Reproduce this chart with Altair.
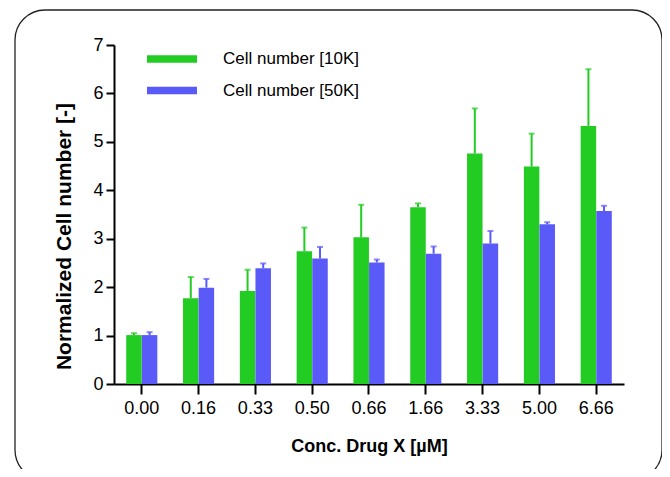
import altair as alt
import pandas as pd

concs = ["0.00", "0.16", "0.33", "0.50", "0.66", "1.66", "3.33", "5.00", "6.66"]
series_names = ["Cell number [10K]", "Cell number [50K]"]
mean_10k = [1.01, 1.77, 1.92, 2.74, 3.03, 3.65, 4.76, 4.49, 5.33]
top_10k = [1.05, 2.21, 2.36, 3.23, 3.70, 3.73, 5.69, 5.17, 6.50]
mean_50k = [1.01, 1.99, 2.39, 2.59, 2.51, 2.69, 2.90, 3.30, 3.57]
top_50k = [1.07, 2.17, 2.49, 2.83, 2.57, 2.84, 3.16, 3.34, 3.68]
colors = ["#22CC22", "#5A5AF8"]

rows = []
for i, c in enumerate(concs):
    rows.append({"conc": c, "series": series_names[0], "mean": mean_10k[i], "top": top_10k[i]})
    rows.append({"conc": c, "series": series_names[1], "mean": mean_50k[i], "top": top_50k[i]})
df = pd.DataFrame(rows)

font = "Liberation Sans"

x_enc = alt.X(
    "conc:N",
    sort=concs,
    scale=alt.Scale(paddingInner=0.45, paddingOuter=0.214),
    axis=alt.Axis(
        title="Conc. Drug X [µM]",
        labelAngle=0,
        labelFontSize=18,
        labelFont=font,
        labelColor="black",
        labelPadding=5,
        tickSize=10,
        tickWidth=2,
        tickColor="black",
        domainColor="black",
        domainWidth=2,
        titleFont=font,
        titleFontSize=18,
        titleFontWeight="bold",
        titleColor="black",
        titleBaseline="alphabetic",
        titleY=67,
    ),
)
xoff = alt.XOffset("series:N", sort=series_names,
                   scale=alt.Scale(paddingInner=0, paddingOuter=0))
y_scale = alt.Scale(domain=[0, 7], nice=False, zero=True)
y_axis = alt.Axis(
    title="Normalized Cell number [-]",
    values=[0, 1, 2, 3, 4, 5, 6, 7],
    grid=False,
    labelFontSize=18,
    labelFont=font,
    labelColor="black",
    labelPadding=3,
    tickSize=8,
    tickWidth=2,
    tickColor="black",
    domainColor="black",
    domainWidth=2,
    titleFont=font,
    titleFontSize=21,
    titleFontWeight="bold",
    titleColor="black",
    titleAngle=270,
    titleBaseline="alphabetic",
    titleX=-44,
    titleY=191,
)

color_enc = alt.Color(
    "series:N",
    sort=series_names,
    scale=alt.Scale(domain=series_names, range=colors),
    legend=alt.Legend(
        title=None,
        orient="none",
        legendX=33,
        legendY=8,
        padding=0,
        symbolType="M-1,-0.15L1,-0.15L1,0.15L-1,0.15Z",
        symbolSize=2500,
        symbolStrokeWidth=0,
        symbolOpacity=1,
        clipHeight=12,
        rowPadding=14.6,
        labelOffset=26,
        labelFontSize=17,
        labelFont=font,
        labelColor="black",
    ),
)

base = alt.Chart(df)

bars = base.mark_bar(size=15.5).encode(
    x=x_enc,
    xOffset=xoff,
    y=alt.Y("mean:Q", scale=y_scale, axis=y_axis),
    color=color_enc,
)

err = base.mark_rule(strokeWidth=2).encode(
    x=alt.X("conc:N", sort=concs),
    xOffset=xoff,
    y="mean:Q",
    y2="top:Q",
    color=alt.Color("series:N", sort=series_names, legend=None),
)

caps = base.mark_tick(size=6, thickness=2).encode(
    x=alt.X("conc:N", sort=concs),
    xOffset=xoff,
    y="top:Q",
    color=alt.Color("series:N", sort=series_names, legend=None),
)

border = alt.Chart(pd.DataFrame({"k": [0]})).mark_rect(
    fill=None, stroke="#222222", strokeWidth=1.3, cornerRadius=30
).encode(
    x=alt.value(15 - 114),
    x2=alt.value(662 - 114),
    y=alt.value(10 - 45),
    y2=alt.value(480 - 45),
)

chart = alt.layer(bars, err, caps, border).properties(
    width=510,
    height=339,
    autosize=alt.AutoSizeParams(type="none"),
    padding={"left": 106, "top": 37, "right": 38, "bottom": 85},
).configure_view(stroke=None).configure_axisX(domain=True).configure_axisY(domain=True)

chart.save("out.html", embed_options={"renderer": "svg", "actions": False})
